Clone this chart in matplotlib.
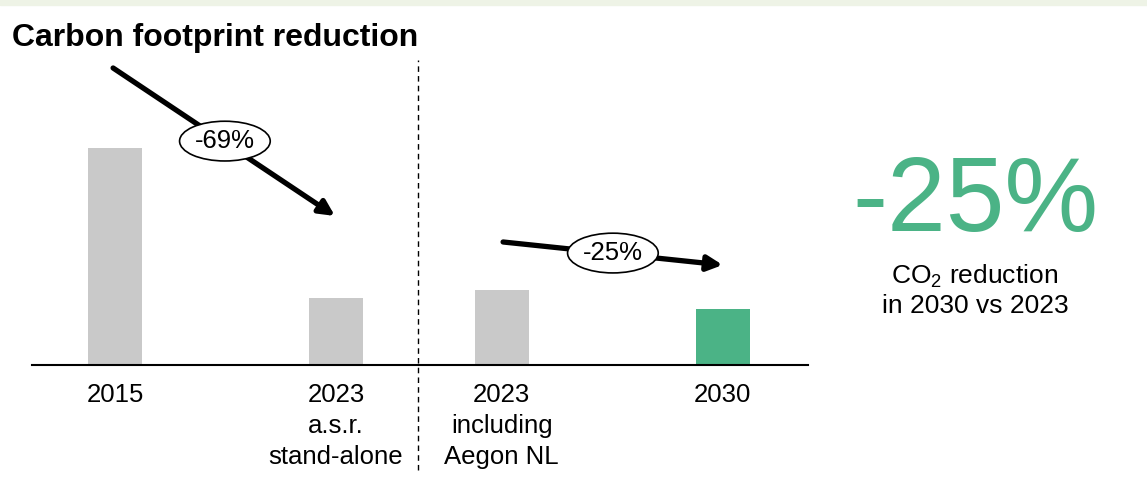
import matplotlib.pyplot as plt
from matplotlib.patches import Rectangle

plt.rcParams['font.family'] = ['Liberation Sans', 'DejaVu Sans']
plt.rcParams['mathtext.fontset'] = 'custom'
plt.rcParams['mathtext.rm'] = 'Liberation Sans'

# data (2015 = 100)
labels = ['2015', '2023\na.s.r.\nstand-alone', '2023\nincluding\nAegon NL', '2030']
values = [100, 31, 34.5, 25.9]
colors = ['#c9c9c9', '#c9c9c9', '#c9c9c9', '#4bb386']
positions = [0, 1, 1.75, 2.75]
changes = ['-69%', '-25%']

fig = plt.figure(figsize=(11.47, 4.79), dpi=100)
fig.patches.append(Rectangle((0, 0.99), 1, 0.01, transform=fig.transFigure,
                             color='#eef3e6', zorder=0))

ax = fig.add_axes([32 / 1147, 114 / 479, 776 / 1147, 325 / 479])
ax.bar(positions, values, width=0.245, color=colors, zorder=2)
ax.set_xlim(-0.376, 3.136)
ax.set_ylim(0, 149.8)
for s in ['top', 'right', 'left']:
    ax.spines[s].set_visible(False)
ax.spines['bottom'].set_linewidth(1.5)
ax.set_yticks([])
ax.set_xticks(positions)
ax.set_xticklabels(labels, fontsize=18.5, linespacing=1.36, va='top')
ax.tick_params(axis='x', length=0, pad=13)

# divider
ax.axvline(1.371, ymin=-0.323, ymax=0.938, color='black', lw=1,
           ls=(0, (4, 3)), clip_on=False)

# arrows with labels
arrows = [((-0.009, 136.9), (0.995, 68.7), (0.497, 103.2)),
          ((1.756, 56.7), (2.75, 46.1), (2.253, 51.6))]
for (start, end, mid), txt in zip(arrows, changes):
    ax.annotate('', xy=end, xytext=start,
                arrowprops=dict(arrowstyle='-|>,head_length=0.9,head_width=0.45',
                                lw=3.8, color='black', shrinkA=0, shrinkB=0))
    ax.text(mid[0], mid[1], txt, fontsize=18.5, ha='center', va='center', zorder=5,
            bbox=dict(boxstyle='ellipse,pad=0.08', fc='white', ec='black', lw=1.2))

fig.text(12 / 1147, 1 - 38 / 479, 'Carbon footprint reduction', fontsize=23,
         fontweight='bold', ha='left', va='center')

fig.text(975 / 1147, 1 - 204 / 479, changes[1], fontsize=76, color='#4bb386',
         ha='center', va='center')
fig.text(975 / 1147, 1 - 290 / 479, 'CO$_2$ reduction\nin 2030 vs 2023',
         fontsize=19, ha='center', va='center', linespacing=1.2)

fig.savefig('out.png', dpi=100)
